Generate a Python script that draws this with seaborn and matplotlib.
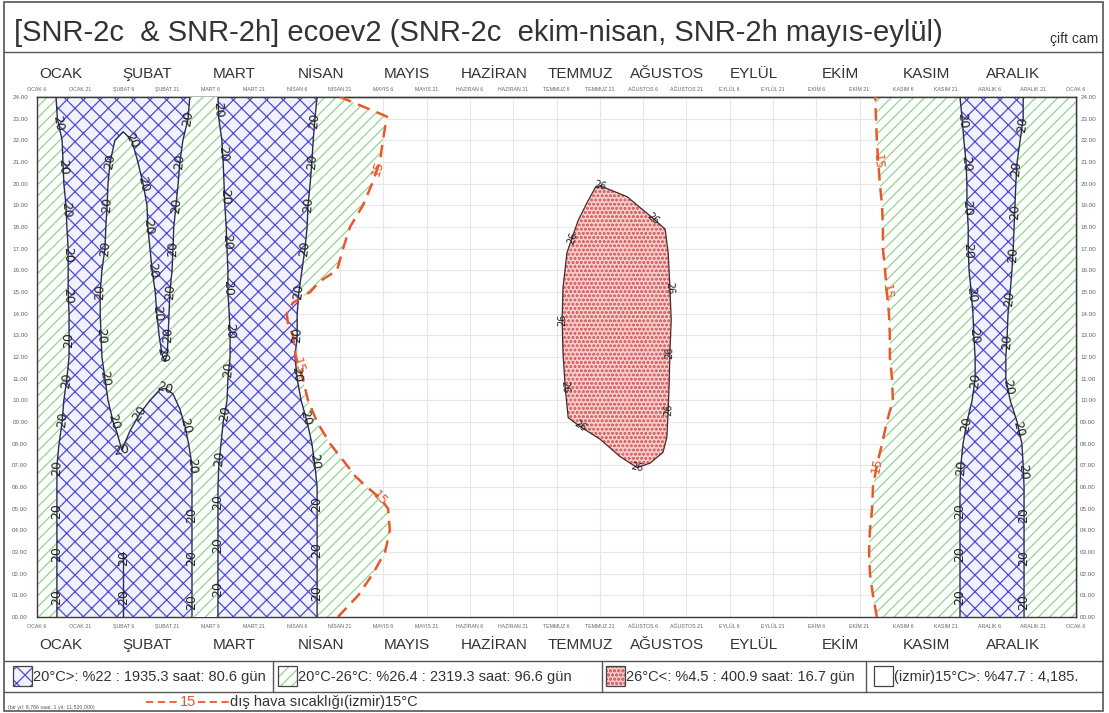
import numpy as np
import matplotlib
matplotlib.use("Agg")
import matplotlib.pyplot as plt
import matplotlib.transforms as mtransforms
from matplotlib.patches import Rectangle, Polygon
from matplotlib.lines import Line2D
import seaborn as sns

sns.set_theme(style="white")
plt.rcParams["font.family"] = ["Liberation Sans", "DejaVu Sans"]
plt.rcParams["hatch.linewidth"] = 0.9

# ---------------------------------------------------------------- data
months = ["OCAK", "ŞUBAT", "MART", "NİSAN", "MAYIS", "HAZİRAN",
          "TEMMUZ", "AĞUSTOS", "EYLÜL", "EKİM", "KASIM", "ARALIK"]
tick_labels = [f"{m} {d}" for m in months for d in (6, 21)] + ["OCAK 6"]
hours = list(range(25))
hour_labels = [f"{h:02d}.00" for h in hours]

# x = half-month periods counted from 6 Ocak (0) to the next 6 Ocak (24)
# 20 °C iso-lines, one x value per hour 00..24
cold_jan_left = [0.46, 0.46, 0.46, 0.46, 0.46, 0.46, 0.46, 0.46, 0.51, 0.58,
                 0.62, 0.69, 0.74, 0.74, 0.74, 0.72, 0.72, 0.72, 0.69, 0.67,
                 0.62, 0.60, 0.58, 0.47, 0.44]
cold_mar_left = [4.18, 4.18, 4.18, 4.18, 4.18, 4.18, 4.18, 4.20, 4.25, 4.30,
                 4.39, 4.41, 4.46, 4.46, 4.44, 4.41, 4.41, 4.39, 4.37, 4.34,
                 4.32, 4.30, 4.27, 4.20, 4.18]
cold_mar_right = [6.47, 6.47, 6.47, 6.47, 6.47, 6.47, 6.47, 6.42, 6.35, 6.24,
                  6.10, 6.01, 5.96, 6.01, 6.01, 6.05, 6.12, 6.19, 6.24, 6.26,
                  6.31, 6.35, 6.38, 6.42, 6.47]
cold_dec_left = [21.32, 21.32, 21.32, 21.32, 21.32, 21.32, 21.32, 21.34, 21.39,
                 21.48, 21.60, 21.67, 21.67, 21.64, 21.62, 21.58, 21.53, 21.51,
                 21.51, 21.48, 21.48, 21.46, 21.41, 21.37, 21.32]
cold_dec_right = [22.80, 22.80, 22.80, 22.80, 22.80, 22.80, 22.80, 22.78, 22.75,
                  22.64, 22.48, 22.38, 22.38, 22.41, 22.43, 22.48, 22.52, 22.55,
                  22.57, 22.59, 22.61, 22.64, 22.71, 22.78, 22.78]

# 20 °C iso-line around the warm pocket of Ocak-Şubat (closed by cold_mar_left)
warm_feb_x = [3.53, 3.49, 3.37, 3.30, 3.26, 3.21, 3.16, 3.14, 3.12, 3.07, 3.05,
              3.03, 3.01, 2.96, 2.89, 2.82, 2.77, 2.73, 2.66, 2.61, 2.56, 2.54,
              2.45, 2.33, 2.19, 1.99, 1.80, 1.69, 1.64, 1.62, 1.59, 1.57, 1.50,
              1.46, 1.46, 1.48, 1.50, 1.57, 1.64, 1.76, 1.85, 1.96, 2.15, 2.38,
              2.61, 2.84, 2.96, 3.14, 3.30, 3.42, 3.51, 3.58, 3.58, 3.58, 3.58,
              3.58]
warm_feb_h = [24, 23, 22, 21, 20, 19, 18, 17, 16, 15, 14, 13, 12.2, 11.8, 12.1,
              13, 14, 15, 16, 17, 18, 19, 20, 21, 22, 22.4, 22, 21, 20, 19, 18,
              17, 16, 15, 14, 13, 12, 11, 10, 9, 8.5, 7.7, 8.6, 9.4, 10.0, 10.5,
              10.55, 10.3, 9.6, 8.8, 7.9, 7.0, 4.7, 2.7, 0.7, 0]
warm_feb_label_idx = [1, 3, 5, 7, 9, 11, 14, 16, 18, 20, 22, 24, 27, 29, 31,
                      33, 35, 37, 39, 41, 43, 46, 49, 51, 52, 53, 54]
stub_x = [1.99, 1.99]
stub_h = [0, 3]

# 26 °C iso-line (summer)
hot_x = [13.01, 13.63, 14.23, 14.51, 14.58, 14.62, 14.65, 14.62, 14.60, 14.58,
         14.55, 14.46, 14.16, 13.86, 13.47, 13.01, 12.54, 12.27, 12.20, 12.15,
         12.13, 12.15, 12.24, 12.36, 12.50, 12.70, 12.89]
hot_h = [19.9, 19.4, 18.4, 17.9, 16.8, 15.2, 13.7, 12.2, 10.6, 9.55, 8.3, 7.6,
         7.1, 6.9, 7.4, 8.2, 8.8, 9.2, 10.6, 12.2, 13.7, 15.2, 16.8, 17.5, 18.3,
         19.1, 19.8]
hot_label_idx = [0, 2, 5, 7, 9, 13, 16, 18, 20, 23]

# outdoor 15 °C line (izmir)
out15_spring_h = [0, 1, 2, 3, 4, 5, 5.5, 6, 6.5, 7, 8, 9, 10, 11, 12, 13, 13.5,
                  14, 14.5, 15, 15.5, 16, 17, 18, 19, 20, 21, 22, 23.1, 24]
out15_spring_x = [6.95, 7.42, 7.76, 8.04, 8.15, 8.11, 7.92, 7.62, 7.35, 7.16,
                  6.77, 6.47, 6.26, 6.14, 5.98, 5.91, 5.80, 5.77, 5.91, 6.31,
                  6.54, 6.93, 7.07, 7.23, 7.53, 7.74, 7.92, 7.99, 8.08, 7.00]
out15_autumn_x = [19.40, 19.31, 19.24, 19.22, 19.24, 19.29, 19.31, 19.40, 19.52,
                  19.63, 19.77, 19.75, 19.70, 19.70, 19.68, 19.63, 19.59, 19.54,
                  19.54, 19.52, 19.47, 19.43, 19.40, 19.38, 19.36]

iso20_label_hours = {
    "jan_left": [0.9, 2.9, 4.9, 6.9, 9.1, 10.9, 12.8, 14.8, 16.7, 18.8, 20.8, 22.8],
    "mar_left": [1.3, 3.3, 5.3, 7.3, 9.4, 11.4, 13.2, 15.2, 17.3, 19.4, 21.4, 23.4],
    "mar_right": [1.1, 3.1, 5.2, 7.2, 9.2, 11.2, 13.0, 15.0, 17.0, 19.0, 21.0, 22.9],
    "dec_left": [0.9, 2.9, 4.9, 6.9, 8.9, 10.9, 13.0, 14.9, 16.9, 18.9, 20.9, 22.9],
    "dec_right": [0.7, 2.7, 4.7, 6.7, 8.7, 10.6, 12.7, 14.7, 16.7, 18.7, 20.7, 22.7],
}
out15_spring_label_hours = [20.7, 11.6, 5.5]
out15_autumn_label_hours = [21.0, 15.0, 7.0]

title = "[SNR-2c  & SNR-2h] ecoev2 (SNR-2c  ekim-nisan, SNR-2h mayıs-eylül)"
subtitle = "çift cam"
legend_texts = ["20°C>: %22 : 1935.3 saat: 80.6 gün",
                "20°C-26°C: %26.4 : 2319.3 saat: 96.6 gün",
                "26°C<: %4.5 : 400.9 saat: 16.7 gün",
                "(izmir)15°C>: %47.7 : 4,185."]
outdoor_key = "15"
outdoor_text = "dış hava sıcaklığı(izmir)15°C"
footnote = "(bir yıl: 8,766 saat, 1 yıl: 11,520,000)"

# ---------------------------------------------------------------- styles
GREEN = "#8ed88e"
BLUE = "#4c4cd4"
BLUE_FACE = "#f2f2ff"
RED = "#d86a6a"
RED_FACE = "#f6cccc"
ORANGE = "#e8582a"
LINE = "#2c2c4c"
GREEN_STYLE = dict(facecolor="white", edgecolor=GREEN, hatch="///", lw=0)
BLUE_STYLE = dict(facecolor=BLUE_FACE, edgecolor=BLUE, hatch="xx", lw=0)
RED_STYLE = dict(facecolor=RED_FACE, edgecolor=RED, hatch="oooo", lw=0)

W, H = 1109, 713


def fx(px):
    return px / W


def fy(py):
    return 1 - py / H


fig = plt.figure(figsize=(W / 100, H / 100), dpi=100)
ax = fig.add_axes([fx(37), fy(617), (1076 - 37) / W, (617 - 97) / H])
ax.set_xlim(0, 24)
ax.set_ylim(0, 24)

# grid
ax.set_axisbelow(True)
ax.grid(True, color="#e7e7e7", lw=0.8)

# regions
hh = np.linspace(0, 24, 481)
spring = np.interp(hh, out15_spring_h, out15_spring_x)
autumn = np.interp(hh, hours, out15_autumn_x)
ax.fill_betweenx(hh, 0, spring, zorder=1, **GREEN_STYLE)
ax.fill_betweenx(hh, autumn, 24, zorder=1, **GREEN_STYLE)
ax.fill_betweenx(hours, cold_jan_left, cold_mar_right, zorder=2, **BLUE_STYLE)
ax.fill_betweenx(hours, cold_dec_left, cold_dec_right, zorder=2, **BLUE_STYLE)
warm_poly = list(zip(warm_feb_x, warm_feb_h)) + list(zip(cold_mar_left, hours))
ax.add_patch(Polygon(warm_poly, closed=True, zorder=3, **GREEN_STYLE))
plt.rcParams["hatch.linewidth"] = 0.7
ax.add_patch(Polygon(list(zip(hot_x, hot_h)), closed=True, zorder=3, **RED_STYLE))
plt.rcParams["hatch.linewidth"] = 0.9


def iso_line(xs, hs, color=LINE, lw=1.0, **kw):
    sns.lineplot(x=xs, y=hs, sort=False, estimator=None, ax=ax, color=color,
                 lw=lw, legend=False, zorder=5, **kw)


for xs in (cold_jan_left, cold_mar_left, cold_mar_right, cold_dec_left, cold_dec_right):
    iso_line(xs, hours)
iso_line(warm_feb_x, warm_feb_h)
iso_line(stub_x, stub_h)
iso_line(hot_x + hot_x[:1], hot_h + hot_h[:1], color="#4a2a2a", lw=0.9)
iso_line(out15_spring_x, out15_spring_h, color=ORANGE, lw=1.8, linestyle=(0, (5, 3)))
iso_line(out15_autumn_x, hours, color=ORANGE, lw=1.8, linestyle=(0, (5, 3)))


def upright_angle(p0, p1):
    a = ax.transData.transform(p0)
    b = ax.transData.transform(p1)
    ang = np.degrees(np.arctan2(b[1] - a[1], b[0] - a[0]))
    if ang > 90:
        ang -= 180
    elif ang <= -90:
        ang += 180
    return ang


def label_at_hour(xs, hs, t, text, color="#222", size=9):
    x = np.interp(t, hs, xs)
    lo, hi = max(t - 0.5, 0), min(t + 0.5, 24)
    ang = upright_angle((np.interp(lo, hs, xs), lo), (np.interp(hi, hs, xs), hi))
    ax.text(x, t, text, rotation=ang, rotation_mode="anchor", ha="center",
            va="center", fontsize=size, color=color, zorder=6,
            family=["DejaVu Sans"])


def label_at_vertex(xs, hs, i, text, color="#222", size=9):
    n = len(xs)
    a, b = (i - 1) % n, (i + 1) % n
    ang = upright_angle((xs[a], hs[a]), (xs[b], hs[b]))
    ax.text(xs[i], hs[i], text, rotation=ang, rotation_mode="anchor", ha="center",
            va="center", fontsize=size, color=color, zorder=6,
            family=["DejaVu Sans"])


for key, xs in (("jan_left", cold_jan_left), ("mar_left", cold_mar_left),
                ("mar_right", cold_mar_right), ("dec_left", cold_dec_left),
                ("dec_right", cold_dec_right)):
    for t in iso20_label_hours[key]:
        label_at_hour(xs, hours, t, "20")
for i in warm_feb_label_idx:
    label_at_vertex(warm_feb_x, warm_feb_h, i, "20")
for t in (0.9, 2.7):
    label_at_hour(stub_x, stub_h, t, "20")
for i in hot_label_idx:
    label_at_vertex(hot_x, hot_h, i, "26", size=7)
for t in out15_spring_label_hours:
    label_at_hour(out15_spring_x, out15_spring_h, t, "15", color=ORANGE, size=9)
for t in out15_autumn_label_hours:
    label_at_hour(out15_autumn_x, hours, t, "15", color=ORANGE, size=9)

# ticks on all four sides
ax.set_xticks(range(25), tick_labels)
ax.set_yticks(hours, hour_labels)
ax.tick_params(axis="x", length=0, labelsize=3.8, labelcolor="#666", pad=5)
ax.tick_params(axis="y", length=0, labelsize=4.5, labelcolor="#666", pad=6.5)
top = ax.secondary_xaxis("top")
top.set_xticks(range(25), tick_labels)
top.tick_params(length=0, labelsize=3.8, labelcolor="#666", pad=3.5)
right = ax.secondary_yaxis("right")
right.set_yticks(hours, hour_labels)
right.tick_params(length=0, labelsize=4.5, labelcolor="#666", pad=3)
for a in (ax, top, right):
    for s in a.spines.values():
        s.set_color("#3a3a3a")
        s.set_linewidth(1.0)

# month names above and below
month_tr = mtransforms.blended_transform_factory(ax.transData, fig.transFigure)
for i, m in enumerate(months):
    for py in (74, 645):
        ax.text(2 * i + 0.55, fy(py), m, transform=month_tr, ha="center",
                va="center", fontsize=11, color="#333")

# title block
fig.text(fx(14), fy(33), title, fontsize=21, color="#333", va="center")
fig.text(fx(1098), fy(39), subtitle, fontsize=10, color="#333", va="center", ha="right")


def hline(py, x0=4, x1=1103, lw=1.0, color="#555", **kw):
    fig.add_artist(Line2D([fx(x0), fx(x1)], [fy(py), fy(py)], color=color, lw=lw, **kw))


def vline(px, y0, y1, lw=1.0):
    fig.add_artist(Line2D([fx(px), fx(px)], [fy(y0), fy(y1)], color="#555", lw=lw))


fig.add_artist(Rectangle((fx(4), fy(711)), fx(1103) - fx(4), fy(2) - fy(711),
                         fill=False, edgecolor="#555", lw=1.2))
hline(52)
hline(661)
hline(692)

# legend row
swatches = [BLUE_STYLE, GREEN_STYLE, RED_STYLE, dict(facecolor="white", lw=0)]
sw_left = [13, 278, 606, 874]
separators = [273, 602, 866]
for px in separators:
    vline(px, 661, 692)
for style, x0, text in zip(swatches, sw_left, legend_texts):
    fig.add_artist(Rectangle((fx(x0), fy(686)), 19 / W, 20 / H, **style))
    fig.add_artist(Rectangle((fx(x0), fy(686)), 19 / W, 20 / H, fill=False,
                             edgecolor="#444", lw=0.9))
    fig.text(fx(x0 + 20), fy(677), text, fontsize=10.5, color="#333", va="center")

# outdoor 15 °C line key and footnote
hline(702, 146, 179, lw=1.3, color=ORANGE, dashes=(4, 2.5))
fig.text(fx(188), fy(702), outdoor_key, fontsize=10.5, color=ORANGE, va="center", ha="center")
hline(702, 198, 229, lw=1.3, color=ORANGE, dashes=(4, 2.5))
fig.text(fx(230), fy(702), outdoor_text, fontsize=10.5, color="#333", va="center")
fig.text(fx(8), fy(707), footnote, fontsize=3.8, color="#555", va="center")

fig.savefig("out.png", dpi=100)
